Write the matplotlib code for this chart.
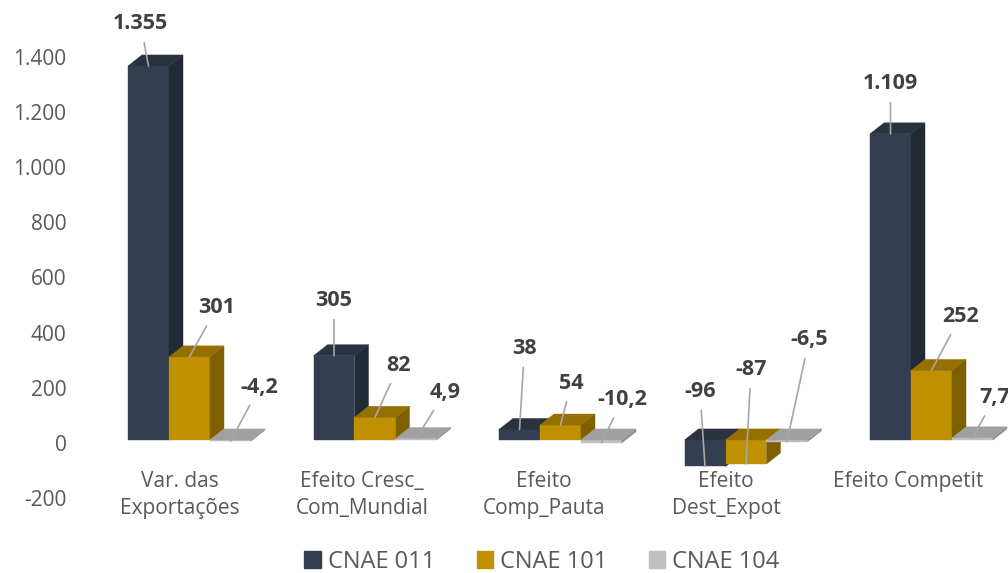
import numpy as np
import matplotlib
matplotlib.use("Agg")
import matplotlib.pyplot as plt
from matplotlib.patches import Polygon, Patch

plt.rcParams['font.family'] = ['Open Sans', 'DejaVu Sans']

categories = ["Var. das\nExportações", "Efeito Cresc_\nCom_Mundial", "Efeito\nComp_Pauta",
              "Efeito\nDest_Expot", "Efeito Competit"]
series_names = ["CNAE 011", "CNAE 101", "CNAE 104"]
cnae011 = [1355, 305, 38, -96, 1109]
cnae101 = [301, 82, 54, -87, 252]
cnae104 = [-4.2, 4.9, -10.2, -6.5, 7.7]
yticks = [-200, 0, 200, 400, 600, 800, 1000, 1200, 1400]

# where each value label sits relative to its bar (pixels)
label_offsets = [
    [(-8, 42), (0, 55), (5, 81), (-5, 75), (0, 50)],
    [(27, 49), (24, 52), (11, 42), (5, 94), (29, 54)],
    [(29, 54), (29, 46), (21, 43), (22, 102), (22, 40)],
]

# front / side / top colours of each series
faces = [
    ("#333F50", "#222A35", "#29323F"),
    ("#BF9000", "#7F6000", "#957000"),
    ("#BFBFBF", "#8C8C8C", "#A0A0A0"),
]

W = 0.221      # bar width
DX = 0.0755    # depth offset in x
DY = 40        # depth offset in y (value units)
F0 = 11        # front base above the wall zero


def fmt(v):
    if float(v).is_integer():
        return f"{int(v):,}".replace(",", ".")
    return f"{v:.1f}".replace(".", ",")


def bar3d(ax, x0, v, cols):
    front, side, top = cols
    ya, yb = F0 + min(0, v), F0 + max(0, v)
    ax.add_patch(Polygon([(x0, ya), (x0 + W, ya), (x0 + W, yb), (x0, yb)],
                         closed=True, fc=front, ec=front, lw=0.3))
    ax.add_patch(Polygon([(x0 + W, ya), (x0 + W, yb), (x0 + W + DX, yb + DY), (x0 + W + DX, ya + DY)],
                         closed=True, fc=side, ec=side, lw=0.3))
    ax.add_patch(Polygon([(x0, yb), (x0 + W, yb), (x0 + W + DX, yb + DY), (x0 + DX, yb + DY)],
                         closed=True, fc=top, ec=top, lw=0.3))


fig = plt.figure(figsize=(10.08, 5.73), dpi=100)
ax = fig.add_axes([95 / 1008, 0, 913 / 1008, 1])
ax.set_xlim(-0.5094, 4.4124)
ax.set_ylim(-471.0, 1605.1)

series = [cnae011, cnae101, cnae104]
x = np.arange(len(categories))
for s, vals in enumerate(series):
    for i, v in enumerate(vals):
        x0 = x[i] + (s - 1.5) * W
        bar3d(ax, x0, v, faces[s])

for s, vals in enumerate(series):
    for i, v in enumerate(vals):
        x0 = x[i] + (s - 1.5) * W
        ax.annotate(fmt(v), xy=(x0 + W / 2, F0 + v), xytext=label_offsets[s][i],
                    textcoords='offset pixels', ha='center', va='center',
                    fontsize=15.5, fontweight='bold', color='#404040',
                    arrowprops=dict(arrowstyle='-', color='#A6A6A6', lw=1.2,
                                    shrinkA=4, shrinkB=0),
                    annotation_clip=False)

for i, name in enumerate(categories):
    ax.text(-0.051 + 0.981 * i, -100, name, ha='center', va='top', fontsize=15,
            color='#595959', linespacing=1.42)

ax.set_yticks(yticks)
ax.set_yticklabels([fmt(t) for t in yticks], fontsize=15, color='#595959')
ax.tick_params(axis='y', length=0, pad=20.5)
ax.set_xticks([])
for sp in ax.spines.values():
    sp.set_visible(False)

handles = [Patch(fc=faces[s][0], ec=faces[s][0]) for s in range(3)]
fig.legend(handles, series_names, loc='center', bbox_to_anchor=(542 / 1008, 11 / 573),
           ncol=3, frameon=False, fontsize=17, labelcolor='#595959',
           handlelength=0.7, handleheight=0.7, handletextpad=0.3, columnspacing=1.75,
           borderpad=0.1)

fig.savefig("out.png", dpi=100)
